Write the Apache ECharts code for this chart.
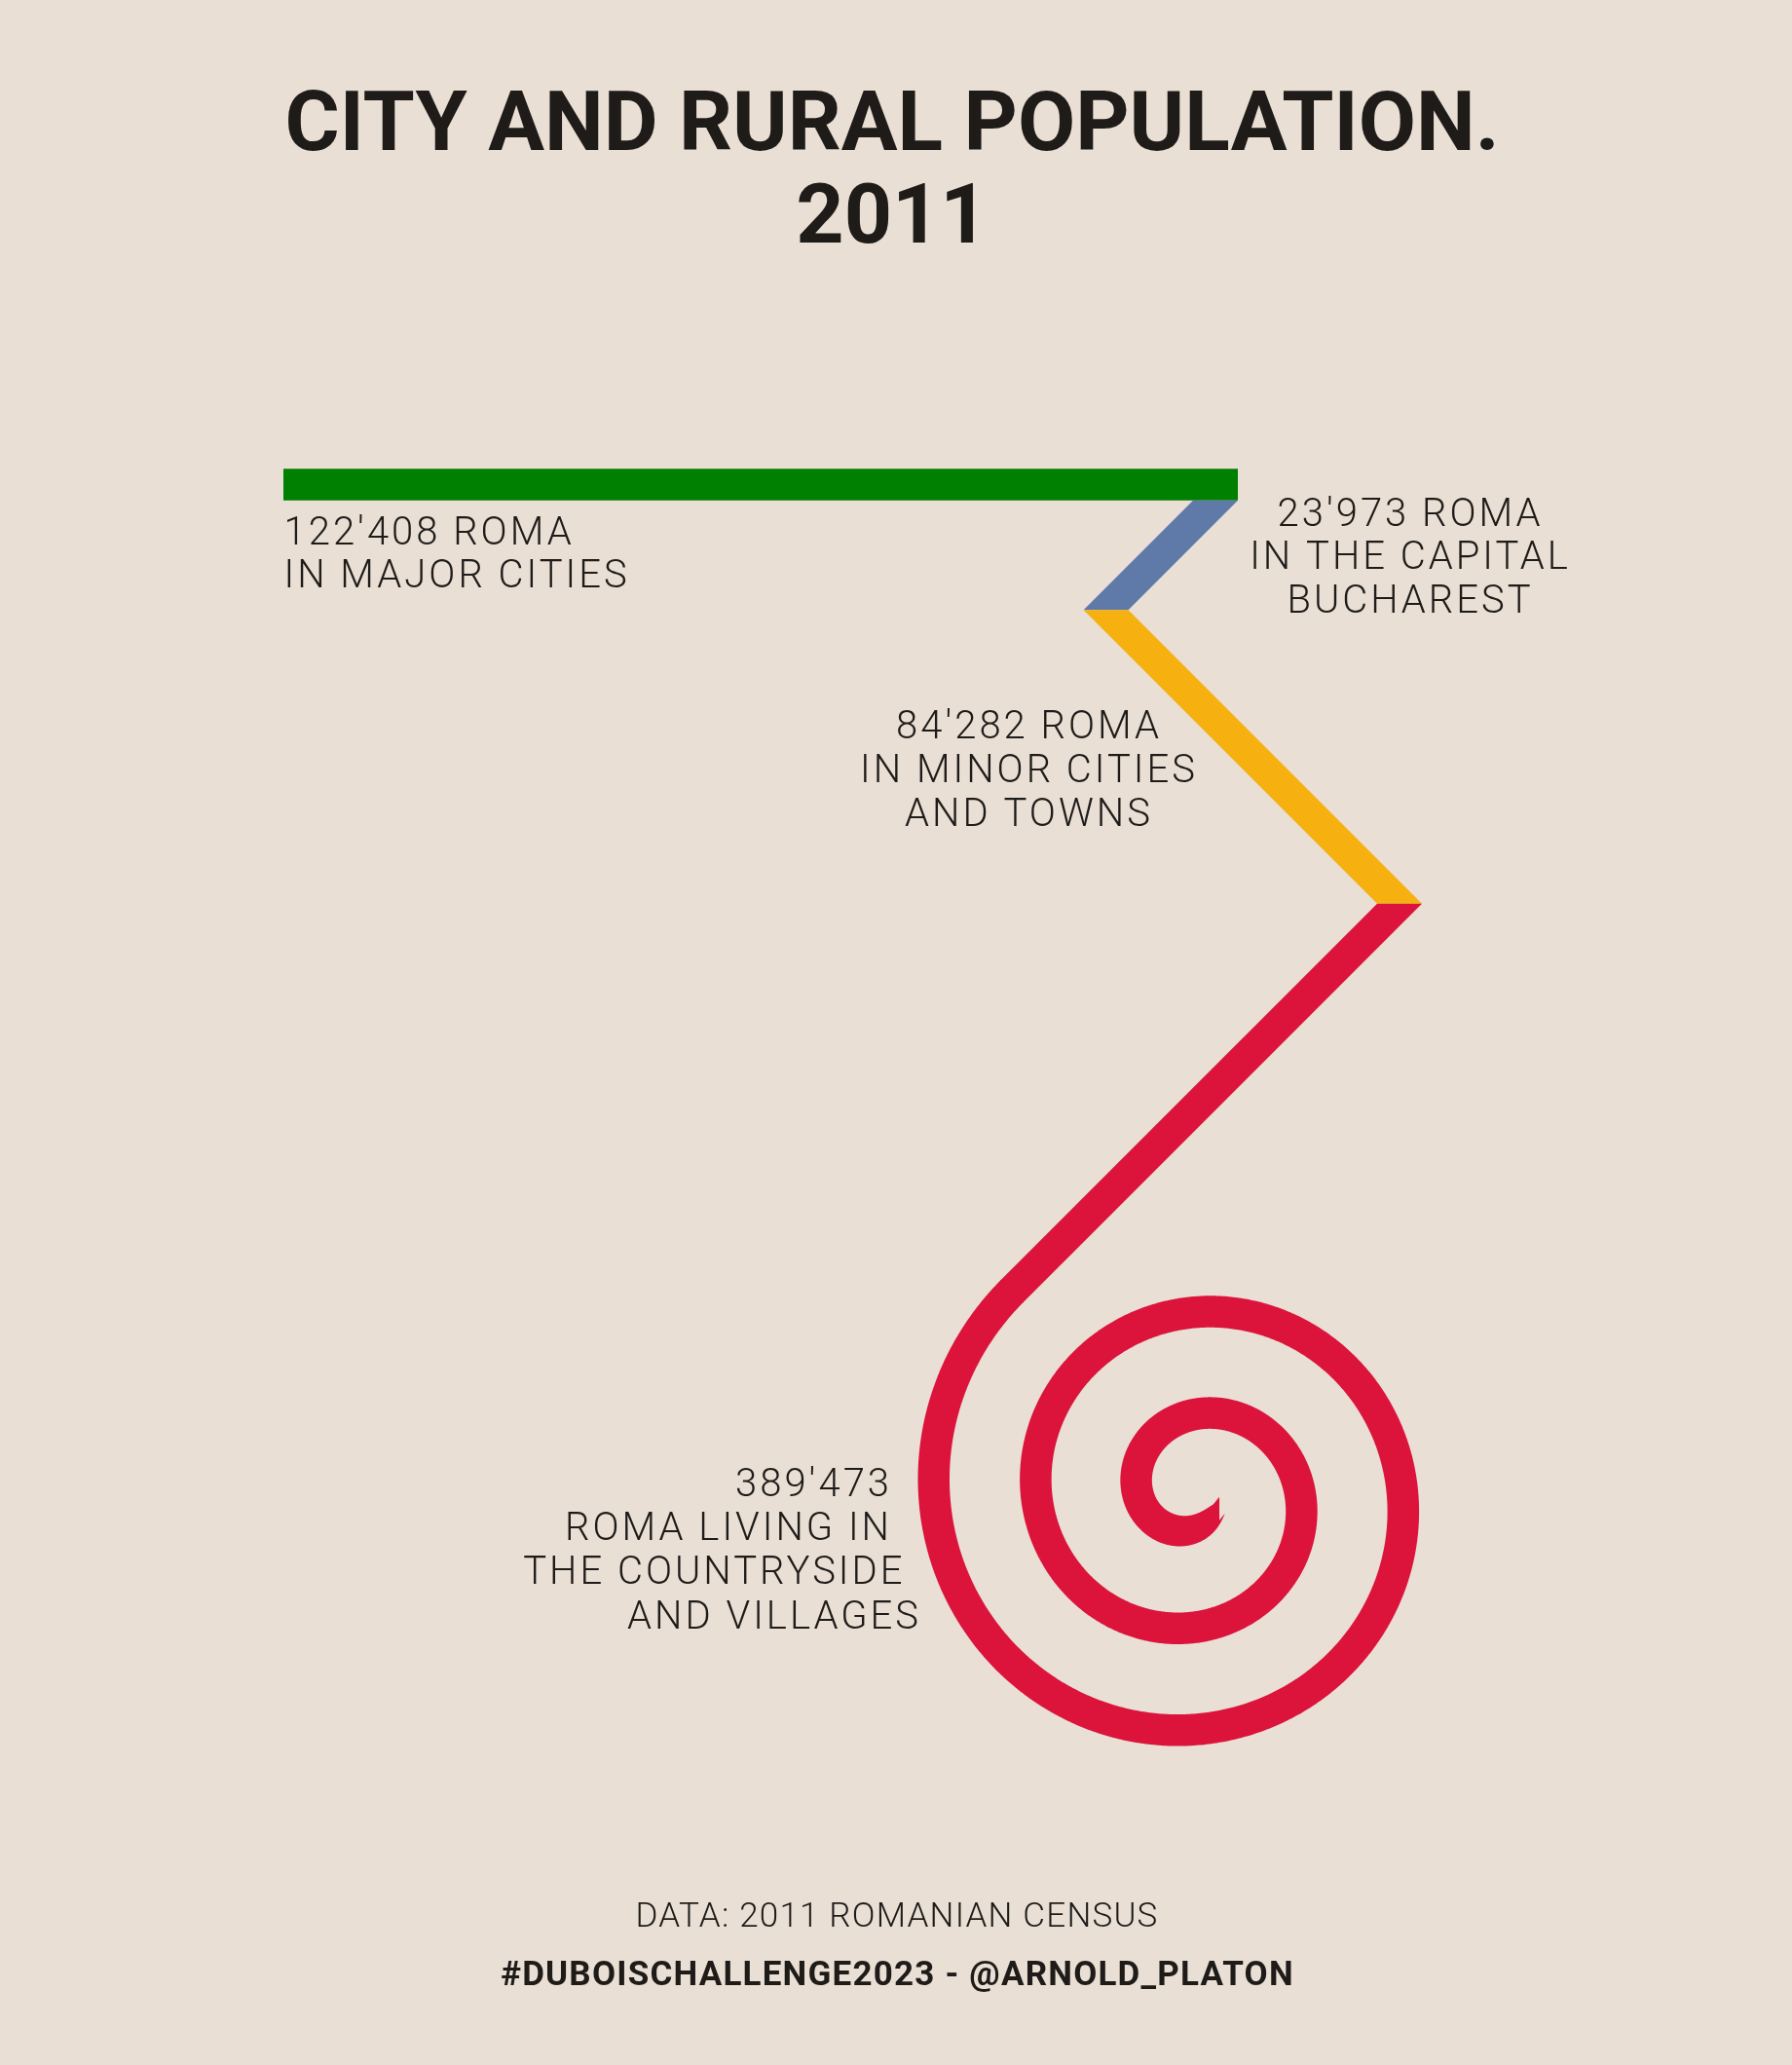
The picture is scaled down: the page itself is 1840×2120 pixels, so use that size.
<!DOCTYPE html>
<html>
<head>
<meta charset="utf-8">
<script src="https://cdn.jsdelivr.net/npm/echarts@6/dist/echarts.min.js"></script>
<style>
  html, body { margin: 0; padding: 0; background: #E9DFD4; }
  #chart { width: 1840px; height: 2120px; }
</style>
</head>
<body>
<div id="chart"></div>
<script>
// ---------------- data ----------------
const categories = ['Major cities', 'Capital Bucharest', 'Minor cities and towns', 'Countryside and villages'];
const population = [122408, 23973, 84282, 389473];
const labelLines = [
  ["122'408 ROMA", "IN MAJOR CITIES"],
  ["23'973 ROMA", "IN THE CAPITAL", "BUCHAREST"],
  ["84'282 ROMA", "IN MINOR CITIES", "AND TOWNS"],
  ["389'473", "ROMA LIVING IN", "THE COUNTRYSIDE", "AND VILLAGES"]
];
const titleLines = ['CITY AND RURAL POPULATION.', '2011'];
const footerLines = ['DATA: 2011 ROMANIAN CENSUS', '#DUBOISCHALLENGE2023 - @ARNOLD_PLATON'];

// ---------------- styles / layout ----------------
const segmentColors = ['#008000', '#5F79A8', '#F6B110', '#DC143C'];
const TEXT = '#1E1B19';
const PLOT = { left: 291, top: 497.5, width: 980, height: 1400 };
const UNIT = population[0] / PLOT.width;          // people per pixel, both axes
// path shape, in axis units (people)
const SHAPE = {
  blueDrop: 14050, yellowDrop: 37660, redDrop: 49650,
  spiralA: 531, spiralB: 2087, hookC: 4034, hookTau: 0.753, tipAngle: 0.478,
  stroke: 32.5, tipStroke: 15, taperFrom: 2.4
};

// tracking (letter spacing) for the label / footer typography
(function () {
  const P = window.CanvasRenderingContext2D && CanvasRenderingContext2D.prototype;
  if (!P || !('letterSpacing' in P)) return;
  const spacing = font => {
    const m = /(\d+(?:\.\d+)?)px/.exec(font || '');
    const s = m ? parseFloat(m[1]) : 0;
    if (s === 40) return '3px';
    if (s === 35) return '1.2px';
    return '0px';
  };
  ['fillText', 'strokeText', 'measureText'].forEach(fn => {
    const orig = P[fn];
    P[fn] = function () { this.letterSpacing = spacing(this.font); return orig.apply(this, arguments); };
  });
})();

function buildGeometry() {
  const W = SHAPE.stroke * UNIT;
  const hw = W / Math.SQRT2;            // half horizontal width of a 45deg band
  const x1 = population[0];
  const green = [[0, -W / 2], [x1, -W / 2], [x1, W / 2], [0, W / 2]];
  const bTop = W / 2, bBot = bTop + SHAPE.blueDrop;
  const blue = [[x1 - 2 * hw, bTop], [x1, bTop], [x1 - SHAPE.blueDrop, bBot], [x1 - 2 * hw - SHAPE.blueDrop, bBot]];
  const yl = x1 - 2 * hw - SHAPE.blueDrop, yr = x1 - SHAPE.blueDrop;
  const yBot = bBot + SHAPE.yellowDrop;
  const yellow = [[yl, bBot], [yr, bBot], [yr + SHAPE.yellowDrop, yBot], [yl + SHAPE.yellowDrop, yBot]];
  const c0 = (yl + yr) / 2 + SHAPE.yellowDrop;
  const A = [c0 - SHAPE.redDrop, yBot + SHAPE.redDrop];
  const q = W / 2 / Math.SQRT2;
  const e = 1.5 * UNIT / Math.SQRT2;
  const Ae = [A[0] - e, A[1] + e];
  const redStraight = [[c0 - hw, yBot], [c0 + hw, yBot], [Ae[0] + q, Ae[1] + q], [Ae[0] - q, Ae[1] - q]];

  const r = t => SHAPE.spiralA + SHAPE.spiralB * t + SHAPE.hookC * Math.exp(-t / SHAPE.hookTau);
  const dr = t => SHAPE.spiralB - SHAPE.hookC / SHAPE.hookTau * Math.exp(-t / SHAPE.hookTau);
  const f = t => dr(t) * (Math.cos(t) + Math.sin(t)) + r(t) * (Math.cos(t) - Math.sin(t));
  let lo = 5.25 * Math.PI - 0.3, hi = 5.25 * Math.PI + 0.3;
  for (let i = 0; i < 60; i++) { const m = (lo + hi) / 2; if (f(m) < 0) lo = m; else hi = m; }
  const tA = (lo + hi) / 2;
  const S = [A[0] - r(tA) * Math.cos(tA), A[1] - r(tA) * Math.sin(tA)];
  const left = [], right = [];
  const steps = 1600;
  for (let i = 0; i <= steps; i++) {
    const t = tA - (tA - SHAPE.tipAngle) * i / steps;
    const rr = r(t), d = dr(t);
    const P = [S[0] + rr * Math.cos(t), S[1] + rr * Math.sin(t)];
    let tx = d * Math.cos(t) - rr * Math.sin(t), ty = d * Math.sin(t) + rr * Math.cos(t);
    const L = Math.hypot(tx, ty); tx /= L; ty /= L;
    let w = SHAPE.stroke;
    if (t < SHAPE.taperFrom) {
      const u = (t - SHAPE.tipAngle) / (SHAPE.taperFrom - SHAPE.tipAngle);
      w = SHAPE.tipStroke + (SHAPE.stroke - SHAPE.tipStroke) * (1 - (1 - u) * (1 - u));
    }
    const h = w * UNIT / 2;
    if (i === steps) {
      // vertical end cut at the inner tip
      const k = h / Math.abs(tx);
      const sgn = tx > 0 ? 1 : -1;
      left.push([P[0], P[1] + sgn * k]);
      right.push([P[0], P[1] - sgn * k]);
    } else {
      left.push([P[0] - ty * h, P[1] + tx * h]);
      right.push([P[0] + ty * h, P[1] - tx * h]);
    }
  }
  const spiral = left.concat(right.reverse());
  return [[green], [blue], [yellow], [redStraight, spiral]];
}
const GEOM = buildGeometry();

function renderItem(params, api) {
  const polys = GEOM[params.dataIndex];
  return {
    type: 'group',
    children: polys.map(p => ({
      type: 'polygon',
      shape: { points: p.map(pt => api.coord(pt)) },
      style: { fill: segmentColors[params.dataIndex], stroke: null }
    }))
  };
}

// ---------------- text ----------------
// x, cap-centre of first line, lines, font size, weight, align, line height
function txt(x, capMid, lines, size, weight, align, lh) {
  return {
    type: 'text', x: x, y: capMid - lh / 2 + 0.1 * size, silent: true,
    style: {
      text: lines.join('\n'), font: weight + ' ' + size + 'px Roboto', fill: TEXT,
      align: align, textAlign: align, verticalAlign: 'top', textVerticalAlign: 'top',
      lineHeight: lh
    }
  };
}
const graphics = [
  txt(916, 123.8, titleLines, 86, 'bold', 'center', 95),
  txt(291.5, 544.7, labelLines[0], 40, '300', 'left', 44),
  txt(1448, 525.5, labelLines[1], 40, '300', 'center', 44.7),
  txt(1056.5, 743.7, labelLines[2], 40, '300', 'center', 45.1),
  txt(916, 1522, [labelLines[3][0]], 40, '300', 'right', 45),
  txt(916, 1566.5, [labelLines[3][1]], 40, '300', 'right', 45),
  txt(929.5, 1612, [labelLines[3][2]], 40, '300', 'right', 45),
  txt(946, 1657.5, [labelLines[3][3]], 40, '300', 'right', 45),
  txt(921, 1966, [footerLines[0]], 35, '300', 'center', 44),
  txt(921.5, 2025.5, [footerLines[1]], 35, 'bold', 'center', 44)
];

const chart = echarts.init(document.getElementById('chart'), null, { renderer: 'canvas' });
chart.setOption({
  backgroundColor: '#E9DFD4',
  animation: false,
  grid: { left: PLOT.left, top: PLOT.top, width: PLOT.width, height: PLOT.height },
  xAxis: { type: 'value', min: 0, max: population[0], show: false },
  yAxis: { type: 'value', min: 0, max: PLOT.height * UNIT, inverse: true, show: false },
  series: [{
    type: 'custom',
    name: 'Roma population',
    clip: false,
    renderItem: renderItem,
    encode: { x: 0, y: 1 },
    data: population.map((v, i) => ({ name: categories[i], value: [0, 0, v] }))
  }],
  graphic: graphics
});
</script>
</body>
</html>
